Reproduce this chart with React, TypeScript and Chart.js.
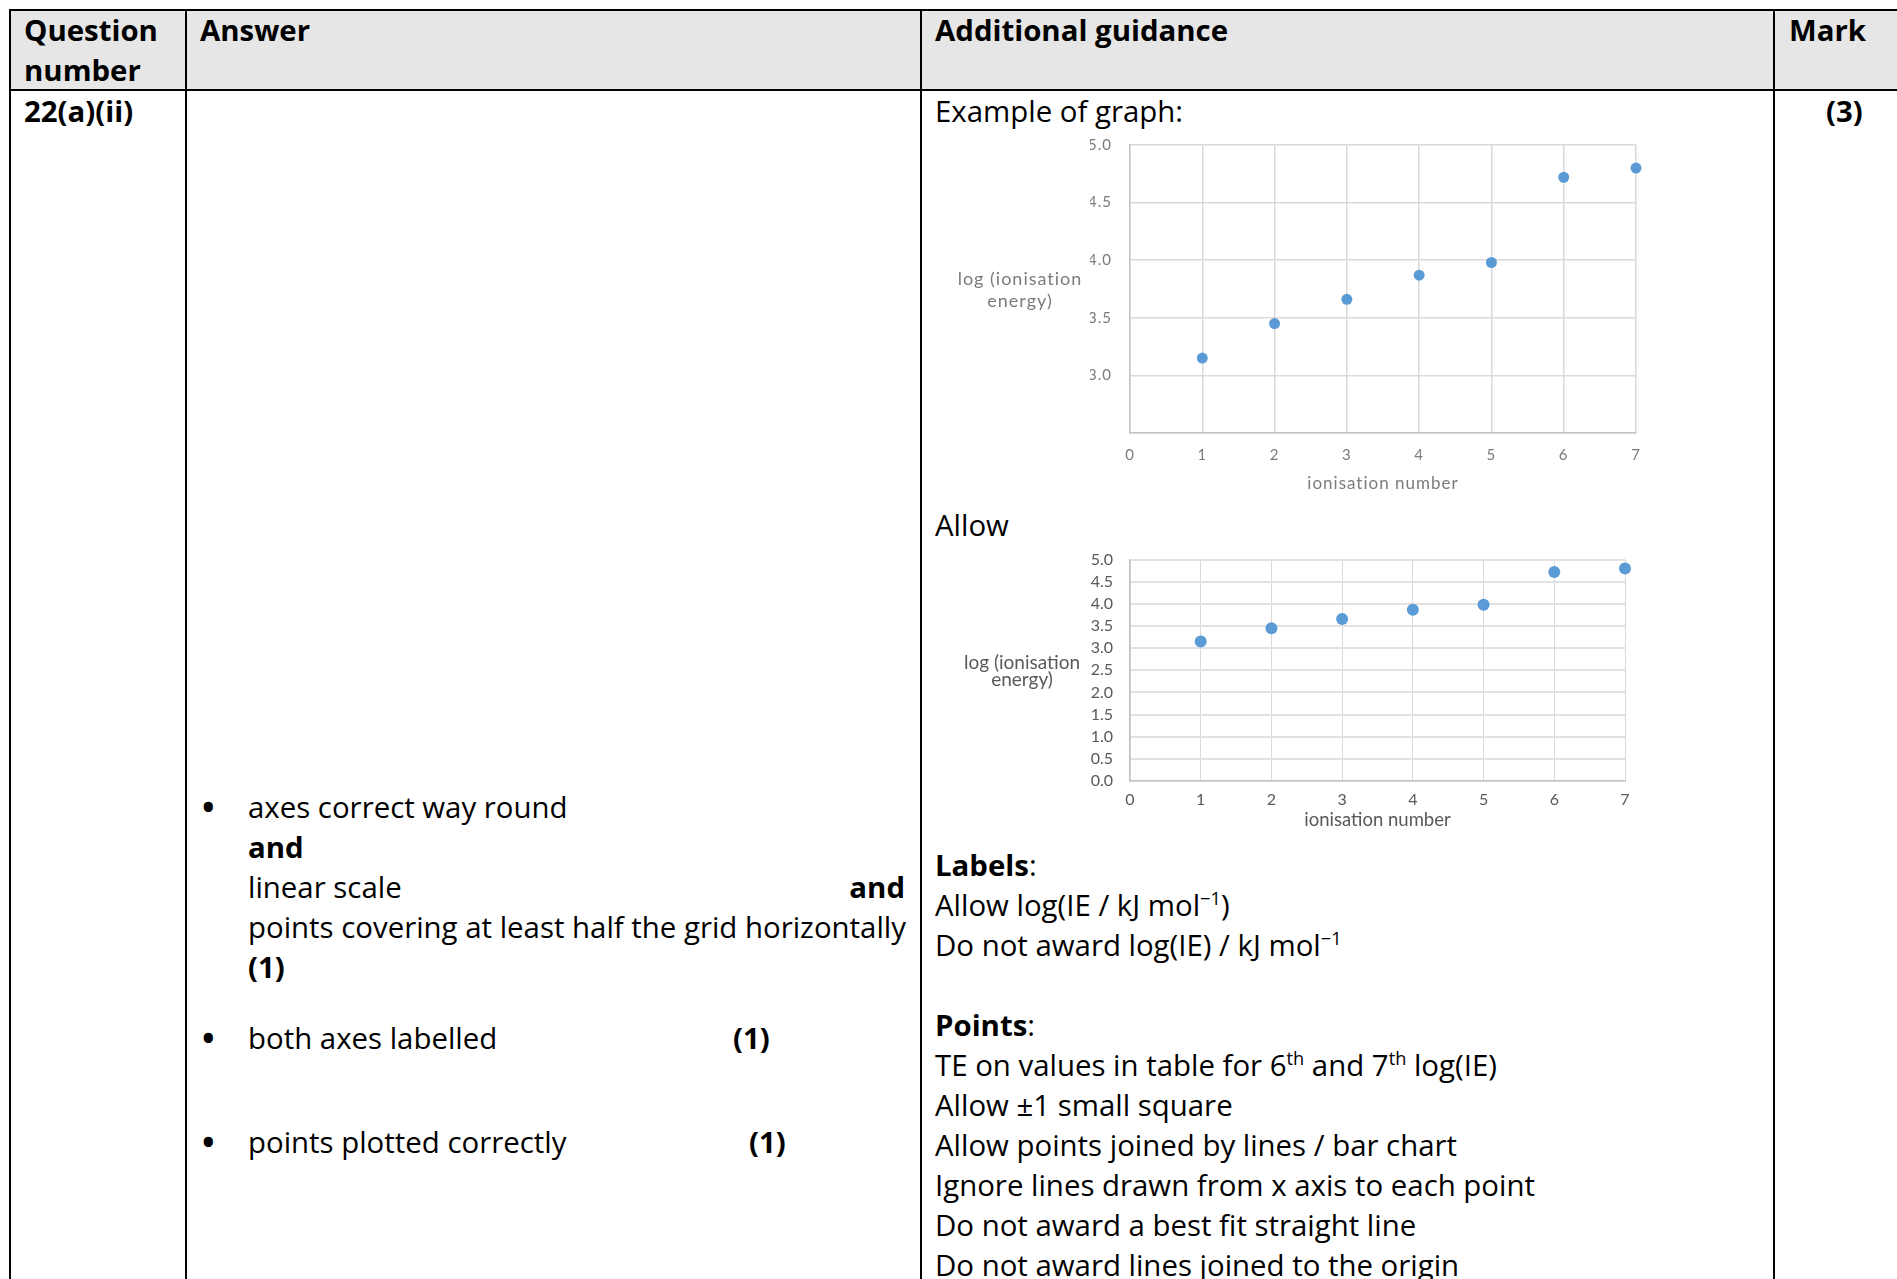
import React, { useEffect, useRef } from "react";
import { Chart, registerables } from "chart.js";

Chart.register(...registerables);

// ---- data ----
const ionisationNumber = [1, 2, 3, 4, 5, 6, 7];
const logIonisationEnergy = [3.15, 3.45, 3.66, 3.87, 3.98, 4.72, 4.8];
const xAxisTitle = "ionisation number";
const yAxisTitleLines = ["log (ionisation", "energy)"];
const exampleYRange = [2.5, 5.0];
const allowYRange = [0.0, 5.0];
const xRange = [0, 7];
const hiddenExampleTick = 2.5;

const POINT_COLOR = "#5b9bd5";

const yTitlePlugin = {
  id: "yTitleHorizontal",
  beforeDraw(chart: any, _a: any, opts: any) {
    if (opts && opts.letterSpacing) {
      try {
        (chart.ctx as any).letterSpacing = opts.letterSpacing;
      } catch (e) {}
    }
  },
  afterDraw(chart: any, _a: any, opts: any) {
    if (!opts || !opts.lines) return;
    const { ctx, chartArea } = chart;
    ctx.save();
    ctx.font = `${opts.size}px ${opts.family}`;
    ctx.fillStyle = opts.color;
    ctx.textAlign = "center";
    ctx.textBaseline = "middle";
    const cy = (chartArea.top + chartArea.bottom) / 2 + (opts.dy || 0);
    const n = opts.lines.length;
    opts.lines.forEach((t: string, i: number) => {
      ctx.fillText(t, chartArea.left - opts.offsetX, cy + (i - (n - 1) / 2) * opts.lineHeight);
    });
    ctx.restore();
  },
};

type ChartSpec = {
  width: number;
  height: number;
  yMin: number;
  yMax: number;
  hideTick: number | null;
  pad: { left: number; right: number; top: number };
  yWidth: number;
  xHeight: number;
  xTickPad: number;
  yTickPad: number;
  titlePadBottom: number;
  textColor: string;
  gridX: { color: string; width: number };
  gridY: { color: string; width: number };
  borderColor: string;
  pointRadius: number;
  yTitle: { offsetX: number; lineHeight: number; size: number; dy: number };
  letterSpacing: string;
  tickSize: number;
  titleSize: number;
};

function ScatterChart({ spec }: { spec: ChartSpec }) {
  const ref = useRef<HTMLCanvasElement | null>(null);
  useEffect(() => {
    if (!ref.current) return;
    const family = "Lato, 'Open Sans', sans-serif";
    const chart = new Chart(ref.current, {
      type: "scatter",
      data: {
        datasets: [
          {
            data: ionisationNumber.map((x, i) => ({ x, y: logIonisationEnergy[i] })),
            backgroundColor: POINT_COLOR,
            borderColor: POINT_COLOR,
            borderWidth: 0,
            pointRadius: spec.pointRadius,
            pointHoverRadius: spec.pointRadius,
            clip: false,
          } as any,
        ],
      },
      options: {
        animation: false,
        responsive: false,
        maintainAspectRatio: false,
        events: [],
        layout: { padding: { left: spec.pad.left, right: spec.pad.right, top: spec.pad.top, bottom: 0 } },
        plugins: {
          legend: { display: false },
          tooltip: { enabled: false },
          yTitleHorizontal: {
            lines: yAxisTitleLines,
            offsetX: spec.yTitle.offsetX,
            lineHeight: spec.yTitle.lineHeight,
            dy: spec.yTitle.dy,
            size: spec.yTitle.size,
            family,
            color: spec.textColor,
            letterSpacing: spec.letterSpacing,
          },
        } as any,
        scales: {
          x: {
            type: "linear",
            min: xRange[0],
            max: xRange[1],
            ticks: {
              stepSize: 1,
              padding: spec.xTickPad,
              color: spec.textColor,
              font: { family, size: spec.tickSize },
              maxRotation: 0,
              autoSkip: false,
            },
            grid: { color: spec.gridX.color, lineWidth: spec.gridX.width, drawTicks: false },
            border: { color: spec.borderColor, width: 1.5 },
            title: {
              display: true,
              text: xAxisTitle,
              color: spec.textColor,
              font: { family, size: spec.titleSize },
              padding: { top: 0, bottom: spec.titlePadBottom },
            },
            afterFit(s: any) {
              s.height = spec.xHeight;
            },
          },
          y: {
            type: "linear",
            min: spec.yMin,
            max: spec.yMax,
            ticks: {
              stepSize: 0.5,
              padding: spec.yTickPad,
              color: spec.textColor,
              font: { family, size: spec.tickSize },
              autoSkip: false,
              callback: (v: any) =>
                spec.hideTick !== null && Math.abs(Number(v) - spec.hideTick) < 1e-9
                  ? ""
                  : Number(v).toFixed(1),
            },
            grid: { color: spec.gridY.color, lineWidth: spec.gridY.width, drawTicks: false },
            border: { color: spec.borderColor, width: 1.5 },
            afterFit(s: any) {
              s.width = spec.yWidth;
            },
          },
        },
      } as any,
      plugins: [yTitlePlugin as any],
    });
    return () => chart.destroy();
  }, [spec]);
  return (
    <canvas
      ref={ref}
      width={spec.width}
      height={spec.height}
      style={{ width: spec.width, height: spec.height, display: "block" }}
    />
  );
}

const exampleSpec: ChartSpec = {
  width: 740,
  height: 387,
  yMin: exampleYRange[0],
  yMax: exampleYRange[1],
  hideTick: hiddenExampleTick,
  pad: { left: 150, right: 44, top: 0 },
  yWidth: 40,
  xHeight: 72,
  xTickPad: 13,
  yTickPad: 18,
  titlePadBottom: 11,
  textColor: "#7b7b7b",
  gridX: { color: "#d9d9d9", width: 1.5 },
  gridY: { color: "#d9d9d9", width: 1.5 },
  borderColor: "#c4c4c4",
  pointRadius: 5.5,
  yTitle: { offsetX: 110, lineHeight: 22, size: 18, dy: 1.5 },
  letterSpacing: "1px",
  tickSize: 15,
  titleSize: 17,
};

const allowSpec: ChartSpec = {
  width: 740,
  height: 312,
  yMin: allowYRange[0],
  yMax: allowYRange[1],
  hideTick: null,
  pad: { left: 150, right: 55, top: 0 },
  yWidth: 40,
  xHeight: 64,
  xTickPad: 9,
  yTickPad: 17,
  titlePadBottom: 14,
  textColor: "#595959",
  gridX: { color: "#d9d9d9", width: 1 },
  gridY: { color: "#e2e2e2", width: 2 },
  borderColor: "#c4c4c4",
  pointRadius: 6,
  yTitle: { offsetX: 108, lineHeight: 17, size: 19, dy: 1.5 },
  letterSpacing: "0px",
  tickSize: 16,
  titleSize: 18.5,
};

function T({
  x,
  y,
  right,
  bold,
  size,
  children,
}: {
  x?: number;
  y: number;
  right?: number;
  bold?: boolean;
  size?: number;
  children: React.ReactNode;
}) {
  const style: React.CSSProperties = {
    position: "absolute",
    top: y,
    whiteSpace: "nowrap",
    fontWeight: bold ? 700 : 400,
  };
  if (size) style.fontSize = size;
  if (right !== undefined) {
    style.right = 1897 - right;
  } else {
    style.left = x;
  }
  return <div style={style}>{children}</div>;
}

function Line({ x, y, w, h }: { x: number; y: number; w: number; h: number }) {
  return <div style={{ position: "absolute", left: x, top: y, width: w, height: h, background: "#000" }} />;
}

const supStyle: React.CSSProperties = { fontSize: "0.62em", verticalAlign: "0.62em", lineHeight: 0 };

export default function App() {
  const BL = 9;
  return (
    <div
      style={{
        position: "fixed",
        left: 0,
        top: 0,
        width: 1897,
        height: 1279,
        overflow: "hidden",
        background: "#fff",
        fontFamily: "'Open Sans', sans-serif",
        fontSize: 29.4,
        lineHeight: "40px",
        color: "#000",
      }}
    >
      {/* header background */}
      <div style={{ position: "absolute", left: BL + 2, top: 11, width: 1897 - BL - 2, height: 78, background: "#e6e6e6" }} />
      {/* borders */}
      <Line x={BL} y={9} w={1897 - BL} h={2} />
      <Line x={BL} y={89} w={1897 - BL} h={2} />
      <Line x={BL} y={9} w={2} h={1279} />
      <Line x={185} y={9} w={2} h={1279} />
      <Line x={920} y={9} w={2} h={1279} />
      <Line x={1773} y={9} w={2} h={1279} />

      {/* header text */}
      <T x={24} y={10} bold>Question</T>
      <T x={24} y={50} bold>number</T>
      <T x={200} y={10} bold>Answer</T>
      <T x={935} y={10} bold>Additional guidance</T>
      <T x={1789} y={10} bold>Mark</T>

      {/* row */}
      <T x={24} y={91} bold>22(a)(ii)</T>
      <T x={1826} y={91} bold>(3)</T>

      {/* answer column */}
      <T x={200} y={786} size={44}>•</T>
      <T x={248} y={787}>axes correct way round</T>
      <T x={248} y={827} bold>and</T>
      <T x={248} y={867}>linear scale</T>
      <T right={905} y={867} bold>and</T>
      <T x={248} y={907}>points covering at least half the grid horizontally</T>
      <T x={248} y={947} bold>(1)</T>
      <T x={200} y={1017} size={44}>•</T>
      <T x={248} y={1018}>both axes labelled</T>
      <T x={733} y={1018} bold>(1)</T>
      <T x={200} y={1121} size={44}>•</T>
      <T x={248} y={1122}>points plotted correctly</T>
      <T x={749} y={1122} bold>(1)</T>

      {/* guidance column */}
      <T x={935} y={91}>Example of graph:</T>
      <div style={{ position: "absolute", left: 940, top: 118 }}>
        <ScatterChart spec={exampleSpec} />
      </div>
      <T x={935} y={505}>Allow</T>
      <div style={{ position: "absolute", left: 940, top: 533 }}>
        <ScatterChart spec={allowSpec} />
      </div>

      <T x={935} y={845}>
        <b>Labels</b>:
      </T>
      <T x={935} y={885}>
        Allow log(IE / kJ mol<span style={supStyle}>−1</span>)
      </T>
      <T x={935} y={925}>
        Do not award log(IE) / kJ mol<span style={supStyle}>−1</span>
      </T>
      <T x={935} y={1005}>
        <b>Points</b>:
      </T>
      <T x={935} y={1045}>
        TE on values in table for 6<span style={supStyle}>th</span> and 7<span style={supStyle}>th</span> log(IE)
      </T>
      <T x={935} y={1085}>Allow ±1 small square</T>
      <T x={935} y={1125}>Allow points joined by lines / bar chart</T>
      <T x={935} y={1165}>Ignore lines drawn from x axis to each point</T>
      <T x={935} y={1205}>Do not award a best fit straight line</T>
      <T x={935} y={1245}>Do not award lines joined to the origin</T>
    </div>
  );
}
